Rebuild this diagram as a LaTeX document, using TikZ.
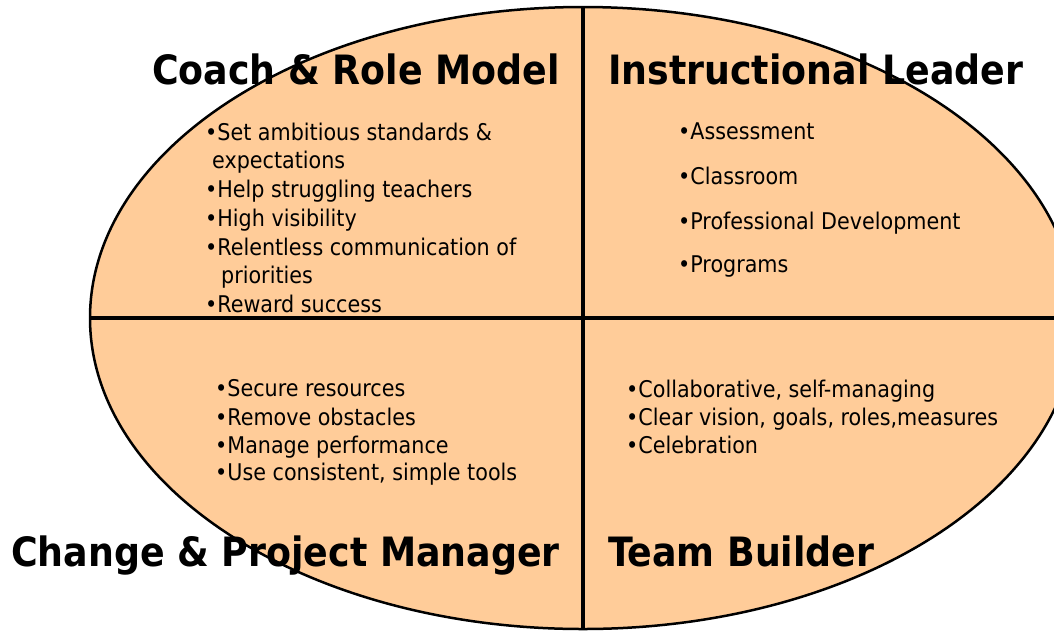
\documentclass[tikz,border=0pt]{standalone}
\usepackage{fontspec}
\setmainfont{DejaVu Sans Condensed}
\newfontfamily\headfont{DejaVu Sans Condensed}
\usetikzlibrary{positioning}
\definecolor{peach}{HTML}{FFCC99}

\tikzset{
  quad/.style={fill=peach, draw=black, line width=2.5pt},
  split/.style={line width=4pt},
  heading/.style={font=\headfont\bfseries\fontsize{40.4}{41}\selectfont, inner sep=0pt},
  item/.style={font=\fontsize{23}{23}\selectfont, anchor=base west, inner sep=0pt}
}

\begin{document}
\begin{tikzpicture}[x=1pt,y=-1pt]
      \useasboundingbox (0,0) rectangle (1054,630);
      \coordinate (c) at (583,318);
      \draw[quad] (c) ellipse [x radius=493, y radius=311];
      \coordinate (top) at (583,7);
      \coordinate (bot) at (583,629);
      \coordinate (lft) at (90,318);
      \coordinate (rgt) at (1076,318);
      \draw[split] (top) -- (bot);
      \draw[split] (lft) -- (rgt);
      % headings
      \node[heading, anchor=base east] (coach) at (560,84) {Coach \& Role Model};
      \node[heading, anchor=base west] (instr) at (608,84) {Instructional Leader};
      \node[heading, anchor=base east] (change) at (560,566) {Change \& Project Manager};
      \node[heading, anchor=base west] (team) at (608,566) {Team Builder};
      % coach items
      \foreach \x/\y/\txt [count=\i] in {205/140/{•Set ambitious standards \&},
          212/168.7/{expectations}, 205/197.4/{•Help struggling teachers},
          205/226/{•High visibility}, 205/255/{•Relentless communication of},
          221/283.5/{priorities}, 205/312/{•Reward success}}
        \node[item] (cr\i) at (\x,\y) {\txt};
      % instructional items
      \foreach \y/\txt [count=\i] in {139/{•Assessment}, 184/{•Classroom},
          229/{•Professional Development}, 272/{•Programs}}
        \node[item] (il\i) at (678,\y) {\txt};
      % change items
      \foreach \y/\txt [count=\i] in {396/{•Secure resources}, 425/{•Remove obstacles},
          453/{•Manage performance}, 480/{•Use consistent, simple tools}}
        \node[item] (pm\i) at (215,\y) {\txt};
      % team items
      \foreach \y/\txt [count=\i] in {397/{•Collaborative, self-managing},
          425/{•Clear vision, goals, roles,measures}, 453/{•Celebration}}
        \node[item] (tb\i) at (626,\y) {\txt};
    \end{tikzpicture}
\end{document}
